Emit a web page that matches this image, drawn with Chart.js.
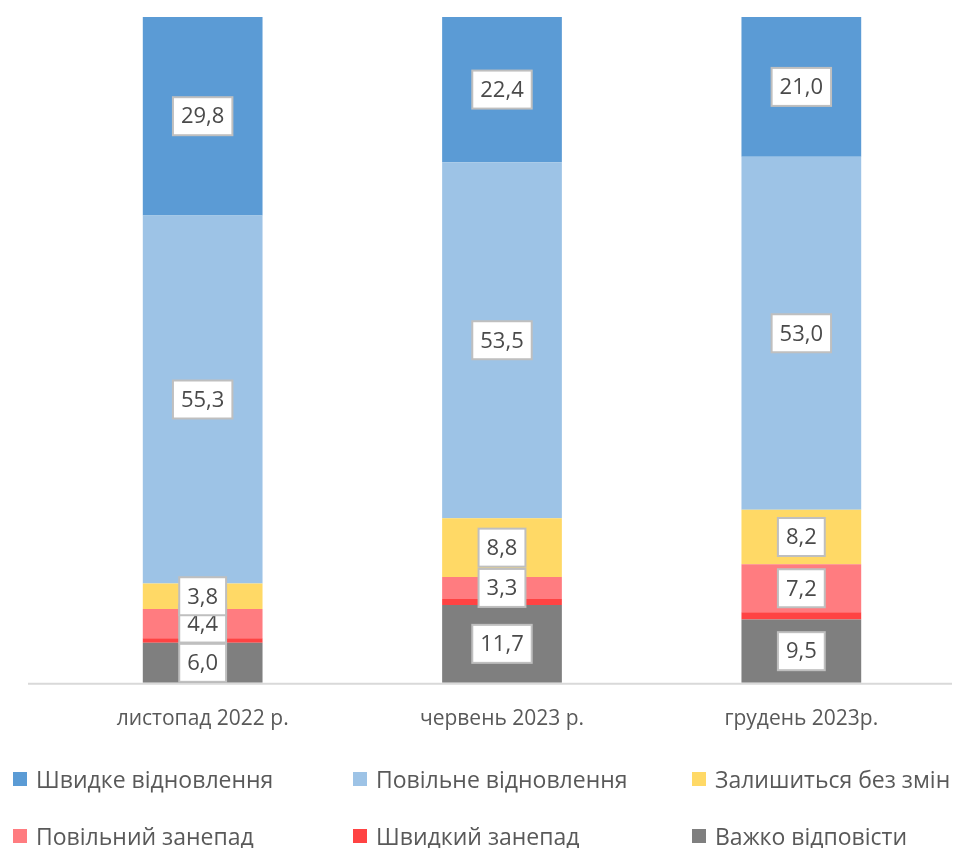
<!DOCTYPE html>
<html lang="uk">
<head>
<meta charset="UTF-8">
<title>Очікування</title>
<script src="https://cdn.jsdelivr.net/npm/chart.js@4.4.1/dist/chart.umd.min.js"></script>
<style>
  html, body { margin: 0; padding: 0; background: #fff; }
  #wrap { position: relative; width: 954px; height: 848px; overflow: hidden; }
  #chart { position: absolute; left: 0; top: 0; }
  #legend { position: absolute; left: 0; top: 0; width: 954px; height: 848px; font-family: "Open Sans", sans-serif; font-size: 23px; color: #595959; }
  .item { position: absolute; display: flex; align-items: center; white-space: nowrap; line-height: 28px; }
  .box { width: 14px; height: 14px; margin-right: 9px; }
</style>
</head>
<body>
<div id="wrap">
  <canvas id="chart" width="954" height="766"></canvas>
  <div id="legend"></div>
</div>
<script>
const periods = ["листопад 2022 р.", "червень 2023 р.", "грудень 2023р."];

// stacked bottom to top
const hardToSay   = [6.0, 11.7, 9.5];
const fastDecline = [0.7, 0.9, 1.1];
const slowDecline = [4.4, 3.3, 7.2];
const noChange    = [3.8, 8.8, 8.2];
const slowRecov   = [55.3, 53.5, 53.0];
const fastRecov   = [29.8, 22.4, 21.0];

const series = [
  { label: "Важко відповісти",      data: hardToSay,   color: "#7f7f7f", showLabel: true },
  { label: "Швидкий занепад",       data: fastDecline, color: "#ff4343", showLabel: false },
  { label: "Повільний занепад",     data: slowDecline, color: "#ff7c80", showLabel: true },
  { label: "Залишиться без змін",   data: noChange,    color: "#ffd966", showLabel: true },
  { label: "Повільне відновлення",  data: slowRecov,   color: "#9dc3e6", showLabel: true },
  { label: "Швидке відновлення",    data: fastRecov,   color: "#5b9bd5", showLabel: true }
];

// boxed value labels in the middle of each segment
const boxLabels = {
  id: "boxLabels",
  afterDatasetsDraw(chart) {
    const ctx = chart.ctx;
    ctx.save();
    ctx.font = "22px 'Open Sans', sans-serif";
    ctx.textAlign = "center";
    ctx.textBaseline = "middle";
    chart.data.datasets.forEach((ds, i) => {
      if (!series[i].showLabel) return;
      chart.getDatasetMeta(i).data.forEach((bar, j) => {
        const txt = ds.data[j].toFixed(1).replace(".", ",");
        const top = Math.max(bar.y, chart.chartArea.top);
        const cy = (top + bar.base) / 2;
        const w = ctx.measureText(txt).width + 16;
        const h = 38;
        ctx.fillStyle = "#fff";
        ctx.fillRect(bar.x - w / 2, cy - h / 2, w, h);
        ctx.strokeStyle = "#bfbfbf";
        ctx.lineWidth = 2;
        ctx.strokeRect(bar.x - w / 2, cy - h / 2, w, h);
        ctx.fillStyle = "#4a4a4a";
        ctx.fillText(txt, bar.x, cy + 1);
      });
    });
    ctx.restore();
  }
};

// baseline under the bars
const baseLine = {
  id: "baseLine",
  beforeDatasetsDraw(chart) {
    const ctx = chart.ctx;
    const y = chart.scales.y.getPixelForValue(0);
    ctx.save();
    ctx.strokeStyle = "#d9d9d9";
    ctx.lineWidth = 2;
    ctx.beginPath();
    ctx.moveTo(28, y + 1);
    ctx.lineTo(chart.width - 2, y + 1);
    ctx.stroke();
    ctx.restore();
  }
};

new Chart(document.getElementById("chart"), {
  type: "bar",
  data: {
    labels: periods,
    datasets: series.map(s => ({
      label: s.label,
      data: s.data,
      backgroundColor: s.color,
      borderWidth: 0,
      barPercentage: 1,
      categoryPercentage: 0.4
    }))
  },
  options: {
    responsive: false,
    animation: false,
    layout: { padding: { top: 17, left: 53, right: 3, bottom: 10 } },
    plugins: { legend: { display: false }, tooltip: { enabled: false } },
    scales: {
      x: {
        stacked: true,
        grid: { display: false, drawTicks: false },
        border: { display: false },
        ticks: { color: "#595959", padding: 24, maxRotation: 0, font: { family: "'Open Sans', sans-serif", size: 21 } }
      },
      y: {
        stacked: true,
        display: false,
        min: 0,
        max: 100
      }
    }
  },
  plugins: [baseLine, boxLabels]
});

// legend, in the reference's order and column layout
const legendOrder = [5, 4, 3, 2, 1, 0];
const colX = [13, 353, 692];
const rowY = [779, 836];
const legend = document.getElementById("legend");
legendOrder.forEach((si, k) => {
  const el = document.createElement("div");
  el.className = "item";
  el.style.left = colX[k % 3] + "px";
  el.style.top = (rowY[Math.floor(k / 3)] - 14) + "px";
  el.innerHTML = '<span class="box" style="background:' + series[si].color + '"></span>' + series[si].label;
  legend.appendChild(el);
});
</script>
</body>
</html>
